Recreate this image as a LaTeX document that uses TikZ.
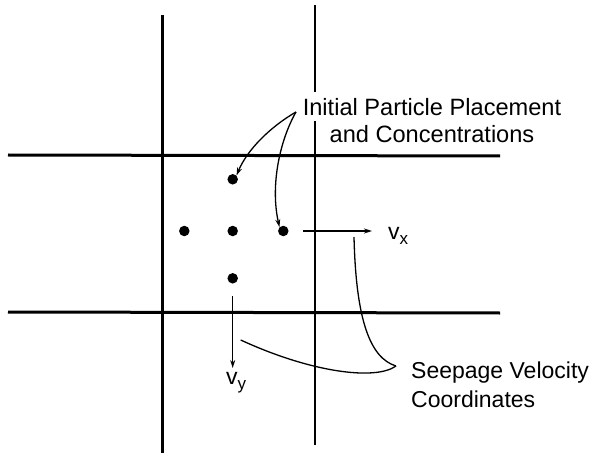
\documentclass[tikz,border=0pt]{standalone}
\usepackage{fontspec}
\setmainfont{Liberation Sans}
\usetikzlibrary{arrows.meta,positioning}

\newcommand{\velsub}[1]{\raisebox{-5pt}{\fontsize{17}{17}\selectfont #1}}

\begin{document}
\begin{tikzpicture}[x=1pt,y=-1pt,>={Stealth[length=8pt,width=5pt]},
    font=\fontsize{23}{27}\selectfont,
    gridline/.style={line width=3pt},
    dot/.style={circle,fill,inner sep=0pt,minimum size=10.5pt},
    lead/.style={line width=1.3pt},
    velo/.style={->,line width=1.8pt}]
  \useasboundingbox (0,0) rectangle (594,457);
  % cell boundaries
  \draw[gridline] (8,155) -- (500,156);
  \draw[gridline] (8,312) -- (500,313);
  \draw[gridline,line width=2.3pt] (162.5,15) -- (162.5,453);
  \draw[gridline,line width=2.3pt] (315,5) -- (315,92) (315,121) -- (315,445);
  % particles
  \node[dot] (pc) at (232.7,231) {};
  \node[dot] (pt) at (232.7,179.3) {};
  \node[dot] (pb) at (232.7,278.3) {};
  \node[dot] (pl) at (184.3,231) {};
  \node[dot] (pr) at (283.3,231) {};
  % velocity components
  \coordinate (vxtail) at (303,231);
  \node[inner sep=0pt,anchor=west] (vx) at (388,236) {v\velsub{x}};
  \draw[velo] (vxtail) -- (372,231);
  \coordinate (vytail) at (232.7,296);
  \node[inner sep=0pt,anchor=north west] (vy) at (226,372) {v\velsub{y}};
  \draw[velo,line width=1.3pt] (vytail) -- (232.7,368);
  % labels
  \node[align=center,inner sep=0pt,font=\fontsize{23.6}{27}\selectfont]
    (init) at (432,121) {Initial Particle Placement\\and Concentrations};
  \node[align=left,inner sep=0pt,anchor=west,font=\fontsize{23}{29}\selectfont]
    (seep) at (411,385) {Seepage Velocity\\Coordinates};
  \coordinate (ifoot) at (296,112);
  \coordinate (sfoot) at (396,366);
  \draw[->,lead] (ifoot) .. controls (270,127) and (247,150) .. (pt.north east);
  \draw[->,lead] (ifoot) .. controls (280,140) and (270,185) .. (pr.north west);
  \draw[lead] (sfoot) .. controls (370,358) and (356,320) .. (354,237);
  \draw[lead] (sfoot) .. controls (375,381) and (310,372) .. (240.7,340);
\end{tikzpicture}
\end{document}
